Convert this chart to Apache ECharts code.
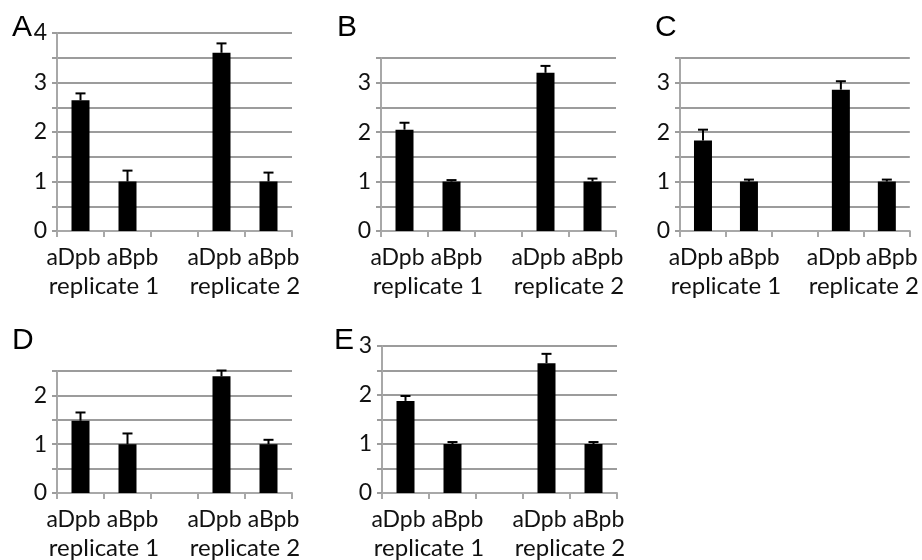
<!DOCTYPE html>
<html>
<head>
<meta charset="utf-8">
<script src="https://cdn.jsdelivr.net/npm/echarts@6/dist/echarts.min.js"></script>
<style>
  html, body { margin: 0; padding: 0; background: #fff; }
  #chart { width: 922px; height: 560px; }
</style>
</head>
<body>
<div id="chart"></div>
<script>
// values
var categories = ['aDpb', 'aBpb', '', 'aDpb', 'aBpb'];
var replicates = ['replicate 1', 'replicate 2'];
var panelNames = ['A', 'B', 'C', 'D', 'E'];

var meanA = [2.64, 1.0, null, 3.6, 1.0];
var errA  = [0.14, 0.22, null, 0.19, 0.18];
var meanB = [2.05, 1.0, null, 3.2, 1.0];
var errB  = [0.14, 0.03, null, 0.14, 0.06];
var meanC = [1.83, 1.0, null, 2.86, 1.0];
var errC  = [0.22, 0.04, null, 0.17, 0.04];
var meanD = [1.48, 1.0, null, 2.39, 1.0];
var errD  = [0.17, 0.22, null, 0.12, 0.09];
var meanE = [1.88, 1.0, null, 2.65, 1.0];
var errE  = [0.10, 0.04, null, 0.19, 0.04];

var yMax = [4, 3.5, 3.5, 2.5, 3];

(function () {
    'use strict';

    var means = [meanA, meanB, meanC, meanD, meanE];
    var errs  = [errA, errB, errC, errD, errE];

    // panel placement
    var layout = [
        { left: 57,  top: 33,  width: 235, height: 198, tx: 7,   ty: 8 },
        { left: 381, top: 58,  width: 235, height: 173, tx: 332, ty: 8 },
        { left: 680, top: 58,  width: 235, height: 173, tx: 650, ty: 8 },
        { left: 57,  top: 371, width: 235, height: 124, tx: 7,   ty: 321 },
        { left: 382, top: 346, width: 235, height: 149, tx: 329, ty: 321 }
    ];

    var labelFont = 'Lato, "Open Sans", sans-serif';
    var gridColor = '#9c9c9c';
    var axisColor = '#a8a8a8';

    function errorItem(params, api) {
        var x = api.value(0);
        var hi = api.coord([x, api.value(1)]);
        var lo = api.coord([x, api.value(2)]);
        var half = 5;
        var style = { stroke: '#000', lineWidth: 2 };
        return {
            type: 'group',
            children: [
                { type: 'line', shape: { x1: hi[0], y1: hi[1], x2: lo[0], y2: lo[1] }, style: style },
                { type: 'line', shape: { x1: hi[0] - half, y1: hi[1], x2: hi[0] + half, y2: hi[1] }, style: style }
            ]
        };
    }

    // first/second bar of a pair drift apart a little, as in the original
    function catLabel(v, idx) {
        if (!v) return '';
        return (idx % 3 === 0 ? '{l|' : '{r|') + v + '}';
    }

    var option = {
        backgroundColor: '#fff',
        animation: false,
        title: [],
        grid: [],
        xAxis: [],
        yAxis: [],
        series: []
    };

    panelNames.forEach(function (name, i) {
        var L = layout[i];

        option.title.push({
            text: name,
            left: L.tx,
            top: L.ty,
            textStyle: { fontFamily: '"Liberation Sans", Arial, sans-serif', fontSize: 30, fontWeight: 'normal', color: '#000' }
        });

        option.grid.push({ left: L.left, top: L.top, width: L.width, height: L.height, containLabel: false });

        // category axis
        option.xAxis.push({
            type: 'category',
            gridIndex: i,
            data: categories,
            axisLine: { lineStyle: { color: axisColor, width: 2 } },
            axisTick: { show: true, length: 6, lineStyle: { color: axisColor, width: 2 } },
            axisLabel: {
                color: '#111', fontFamily: labelFont, fontSize: 23, margin: 15, interval: 0,
                formatter: catLabel,
                rich: {
                    l: { fontFamily: labelFont, fontSize: 23, color: '#111', padding: [0, 14, 0, 0] },
                    r: { fontFamily: labelFont, fontSize: 23, color: '#111', padding: [0, 0, 0, 10] }
                }
            }
        });
        // second label row, centred on each replicate pair
        option.xAxis.push({
            type: 'value',
            gridIndex: i,
            min: 0,
            max: 5,
            interval: 1,
            position: 'bottom',
            axisLine: { show: false },
            axisTick: { show: false },
            splitLine: { show: false },
            axisLabel: {
                color: '#111', fontFamily: labelFont, fontSize: 24, margin: 43,
                showMinLabel: true, showMaxLabel: true,
                formatter: function (v) {
                    if (v === 1) return replicates[0];
                    if (v === 4) return replicates[1];
                    return '';
                }
            }
        });

        option.yAxis.push({
            type: 'value',
            gridIndex: i,
            min: 0,
            max: yMax[i],
            interval: 0.5,
            axisLine: { show: true, lineStyle: { color: axisColor, width: 2 } },
            axisTick: { show: true, length: 5, lineStyle: { color: gridColor, width: 2 } },
            splitLine: { lineStyle: { color: gridColor, width: 2 } },
            axisLabel: {
                color: '#111', fontFamily: labelFont, fontSize: 23, margin: 10,
                formatter: function (v) { return Number.isInteger(v) ? String(v) : ''; }
            }
        });

        option.series.push({
            type: 'bar',
            xAxisIndex: i * 2,
            yAxisIndex: i,
            data: means[i],
            barWidth: 18,
            itemStyle: { color: '#000' }
        });

        var errData = [];
        means[i].forEach(function (m, k) {
            if (m == null) return;
            errData.push([k, m + errs[i][k], m]);
        });
        option.series.push({
            type: 'custom',
            xAxisIndex: i * 2,
            yAxisIndex: i,
            renderItem: errorItem,
            data: errData,
            z: 3
        });
    });

    var chart = echarts.init(document.getElementById('chart'), null, { renderer: 'canvas' });
    chart.setOption(option);
}());
</script>
</body>
</html>
